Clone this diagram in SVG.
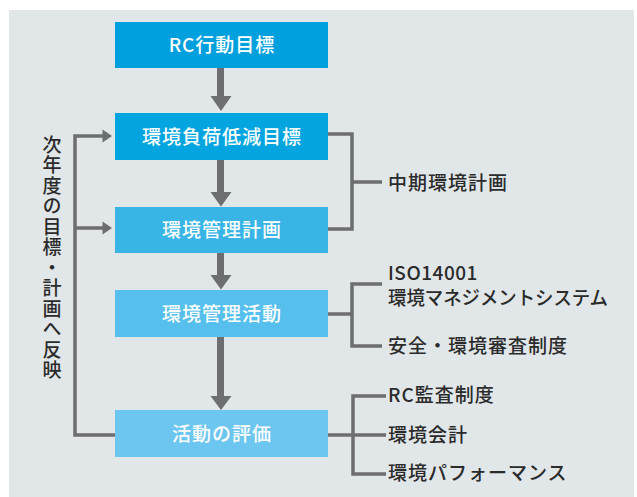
<svg xmlns="http://www.w3.org/2000/svg" width="637" height="497" viewBox="0 0 637 497">
  <style>
    .box-label { font-family: "Noto Sans CJK JP", "Noto Sans", sans-serif; font-size: 19px; font-weight: 500; fill: #ffffff; text-anchor: middle; letter-spacing: 1px; }
    .side-label { font-family: "Noto Sans CJK JP", "Noto Sans", sans-serif; font-size: 19px; font-weight: 500; fill: #2b2b2b; letter-spacing: 1px; }
    .line { fill: none; stroke: #6d6e71; stroke-width: 3.5; }
    .head { fill: #6d6e71; }
  </style>
  <rect x="9" y="10" width="625" height="487" fill="#e1e6e9"/>

  <g id="connectors">
    <!-- down arrows -->
    <rect class="head" x="217" y="68" width="7" height="29"/>
    <polygon class="head" points="210.5,96 231.5,96 221,111"/>
    <rect class="head" x="217" y="160" width="7" height="33"/>
    <polygon class="head" points="210.5,192 231.5,192 221,206.5"/>
    <rect class="head" x="217" y="253" width="7" height="23"/>
    <polygon class="head" points="210.5,275 231.5,275 221,289.5"/>
    <rect class="head" x="217" y="337" width="7" height="60"/>
    <polygon class="head" points="210.5,396 231.5,396 221,410"/>
    <!-- feedback loop -->
    <path class="line" d="M115,435 H75 V136 H104"/>
    <polygon class="head" points="102.5,129.5 112,136 102.5,142.5"/>
    <path class="line" d="M75,228 H104"/>
    <polygon class="head" points="102.5,221.5 112,228 102.5,234.5"/>
    <!-- right brackets -->
    <path class="line" d="M327,134 H352 V229 H327"/>
    <path class="line" d="M352,182 H382"/>
    <path class="line" d="M327,314 H352"/>
    <path class="line" d="M382,284 H352 V346 H382"/>
    <path class="line" d="M327,435 H386"/>
    <path class="line" d="M386,396 H353 V474 H386"/>
  </g>

  <g id="rc-goal">
    <rect x="115" y="22" width="213" height="46" fill="#009fdd"/>
    <text class="box-label" x="222" y="52">RC行動目標</text>
  </g>
  <g id="env-load-goal">
    <rect x="115" y="113" width="213" height="47" fill="#03a5e0"/>
    <text class="box-label" x="222" y="143.5">環境負荷低減目標</text>
  </g>
  <g id="env-plan">
    <rect x="115" y="207" width="213" height="46" fill="#38b4e7"/>
    <text class="box-label" x="222" y="237">環境管理計画</text>
  </g>
  <g id="env-activity">
    <rect x="115" y="290" width="213" height="47" fill="#57bfee"/>
    <text class="box-label" x="222" y="320.5">環境管理活動</text>
  </g>
  <g id="evaluation">
    <rect x="115" y="410" width="213" height="47" fill="#6dc6f0"/>
    <text class="box-label" x="222" y="440.5">活動の評価</text>
  </g>

  <g id="feedback-label">
    <text class="side-label" x="52" y="135" style="writing-mode: vertical-rl; letter-spacing: 1.5px;">次年度の目標・計画へ反映</text>
  </g>
  <g id="mid-term-plan">
    <text class="side-label" x="388" y="190">中期環境計画</text>
  </g>
  <g id="iso14001">
    <text class="side-label" x="388" y="280" style="letter-spacing:0.5px">ISO14001</text>
    <text class="side-label" x="388" y="305" textLength="220" lengthAdjust="spacingAndGlyphs" style="letter-spacing:0">環境マネジメントシステム</text>
  </g>
  <g id="safety-audit">
    <text class="side-label" x="388" y="353">安全・環境審査制度</text>
  </g>
  <g id="rc-audit">
    <text class="side-label" x="388" y="402">RC監査制度</text>
  </g>
  <g id="env-accounting">
    <text class="side-label" x="388" y="442">環境会計</text>
  </g>
  <g id="env-performance">
    <text class="side-label" x="388" y="480">環境パフォーマンス</text>
  </g>
</svg>
